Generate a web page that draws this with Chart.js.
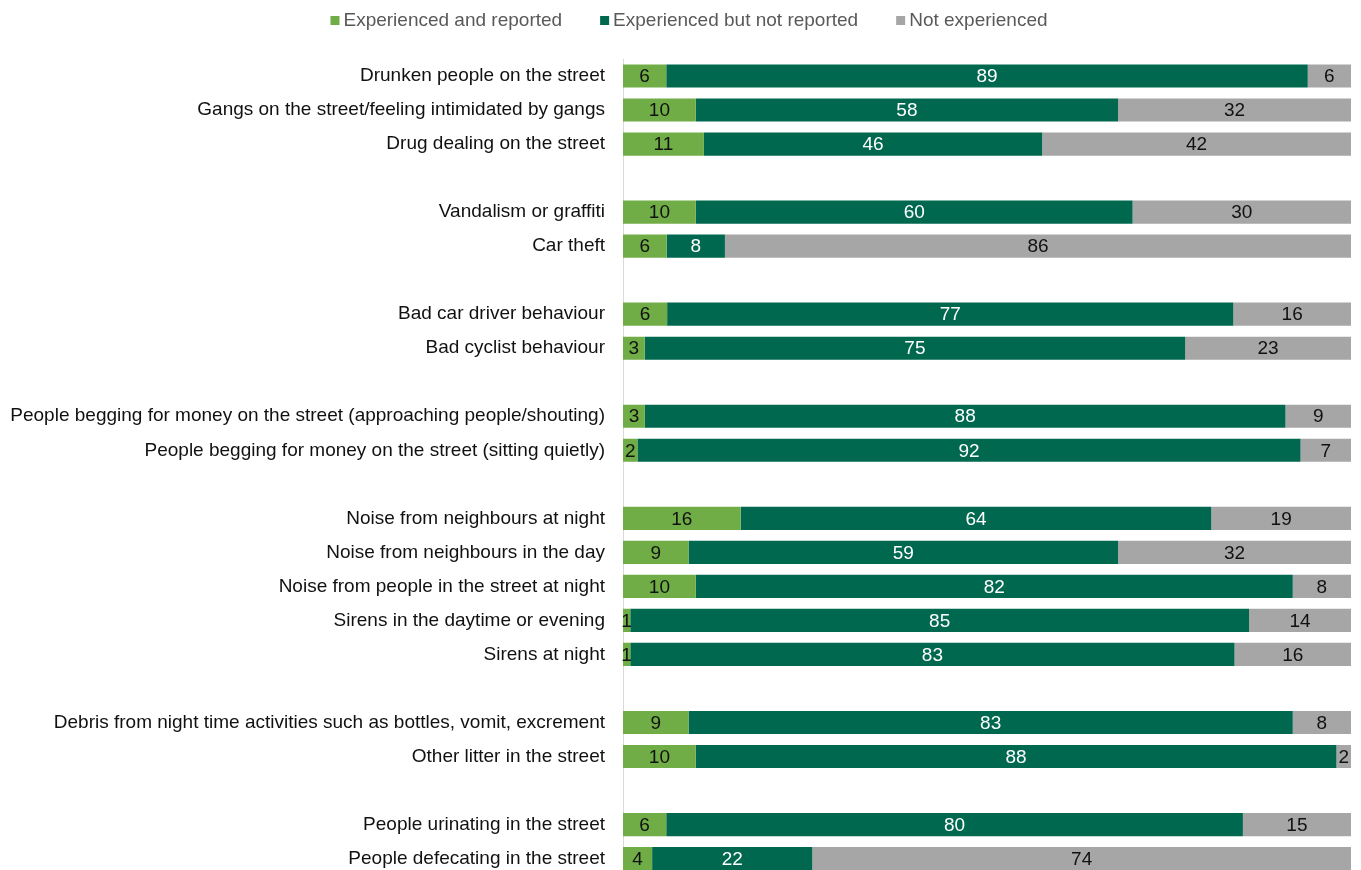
<!DOCTYPE html>
<html>
<head>
<meta charset="utf-8">
<script src="https://cdn.jsdelivr.net/npm/chart.js@4.4.1/dist/chart.umd.min.js"></script>
<style>
  html, body { margin: 0; padding: 0; background: #fff; overflow: hidden; }
  canvas { display: block; }
</style>
</head>
<body>
<canvas id="chart" width="1361" height="897"></canvas>
<script>
  // blank entries ('') separate the groups of issues
  const categories = [
    'Drunken people on the street',
    'Gangs on the street/feeling intimidated by gangs',
    'Drug dealing on the street',
    '',
    'Vandalism or graffiti',
    'Car theft',
    '',
    'Bad car driver behaviour',
    'Bad cyclist behaviour',
    '',
    'People begging for money on the street (approaching people/shouting)',
    'People begging for money on the street (sitting quietly)',
    '',
    'Noise from neighbours at night',
    'Noise from neighbours in the day',
    'Noise from people in the street at night',
    'Sirens in the daytime or evening',
    'Sirens at night',
    '',
    'Debris from night time activities such as bottles, vomit, excrement',
    'Other litter in the street',
    '',
    'People urinating in the street',
    'People defecating in the street'
  ];

  const seriesNames = ['Experienced and reported', 'Experienced but not reported', 'Not experienced'];

  const reported    = [6, 10, 11, null, 10, 6, null, 6, 3, null, 3, 2, null, 16, 9, 10, 1, 1, null, 9, 10, null, 6, 4];
  const notReported = [89, 58, 46, null, 60, 8, null, 77, 75, null, 88, 92, null, 64, 59, 82, 85, 83, null, 83, 88, null, 80, 22];
  const notExperienced = [6, 32, 42, null, 30, 86, null, 16, 23, null, 9, 7, null, 19, 32, 8, 14, 16, null, 8, 2, null, 15, 74];

  const colors = ['#70AD47', '#00684F', '#A6A6A6'];
  const labelColors = ['#111', '#fff', '#111'];
  const FONT = '"Liberation Sans", Arial, sans-serif';
  const FONT_SIZE = 19;

  const raw = [reported, notReported, notExperienced];

  // each row is shown as a share of its own total (100% stacked)
  function shares(values) {
    return values.map((v, i) => {
      if (v === null) return null;
      const total = raw.reduce((s, arr) => s + (arr[i] || 0), 0);
      return v / total * 100;
    });
  }

  const valueLabels = {
    id: 'valueLabels',
    afterDatasetsDraw(chart) {
      const ctx = chart.ctx;
      ctx.save();
      ctx.font = FONT_SIZE + 'px ' + FONT;
      ctx.textAlign = 'center';
      ctx.textBaseline = 'middle';
      chart.data.datasets.forEach((ds, di) => {
        const meta = chart.getDatasetMeta(di);
        meta.data.forEach((bar, i) => {
          const v = raw[di][i];
          if (v === null) return;
          ctx.fillStyle = labelColors[di];
          ctx.fillText(String(v), (bar.x + bar.base) / 2, bar.y + 1);
        });
      });
      ctx.restore();
    }
  };

  const topLegend = {
    id: 'topLegend',
    afterDraw(chart) {
      const ctx = chart.ctx;
      ctx.save();
      ctx.font = FONT_SIZE + 'px ' + FONT;
      ctx.textBaseline = 'middle';
      const box = 9, gap = 4, spacing = 38;
      const widths = seriesNames.map(n => ctx.measureText(n).width);
      const total = widths.reduce((s, w) => s + box + gap + w, 0) + spacing * (seriesNames.length - 1);
      let x = 689 - total / 2;
      const y = 21;
      seriesNames.forEach((n, i) => {
        ctx.fillStyle = colors[i];
        ctx.fillRect(x, y - 5, box, box);
        ctx.fillStyle = '#595959';
        ctx.fillText(n, x + box + gap, y);
        x += box + gap + widths[i] + spacing;
      });
      ctx.restore();
    }
  };

  new Chart(document.getElementById('chart'), {
    type: 'bar',
    data: {
      labels: categories,
      datasets: seriesNames.map((name, i) => ({
        label: name,
        data: shares(raw[i]),
        backgroundColor: colors[i],
        borderWidth: 0,
        barPercentage: 0.68,
        categoryPercentage: 1
      }))
    },
    options: {
      indexAxis: 'y',
      responsive: false,
      animation: false,
      layout: { padding: { top: 59, right: 10, bottom: 5, left: 0 } },
      plugins: {
        legend: { display: false },
        tooltip: { enabled: false }
      },
      scales: {
        x: { stacked: true, min: 0, max: 100, display: false },
        y: {
          stacked: true,
          grid: { display: false },
          border: { display: true, color: '#D9D9D9', width: 1 },
          ticks: {
            autoSkip: false,
            padding: 10,
            color: '#111',
            font: { size: FONT_SIZE, family: FONT }
          },
          afterFit(scale) { scale.width = 623; }
        }
      }
    },
    plugins: [valueLabels, topLegend]
  });
</script>
</body>
</html>
